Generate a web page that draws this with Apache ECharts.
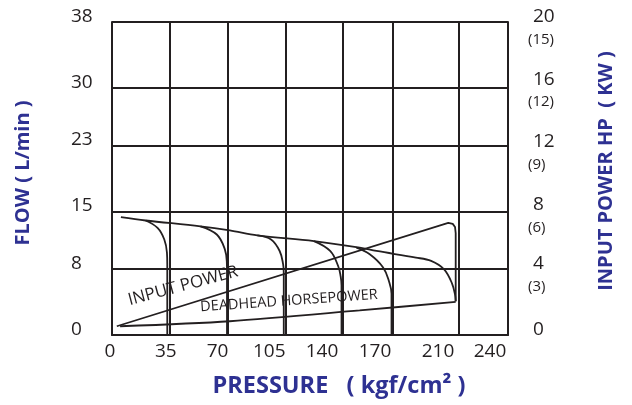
<!DOCTYPE html>
<html>
<head>
<meta charset="utf-8">
<title>Pump performance curves</title>
<script src="https://cdn.jsdelivr.net/npm/echarts@6/dist/echarts.min.js"></script>
<style>
  html, body { margin: 0; padding: 0; background: #ffffff; }
  #chart { width: 632px; height: 405px; }
</style>
</head>
<body>
<div id="chart"></div>
<script>
// Axis tick values
const pressureTicks = [0, 35, 70, 105, 140, 170, 210, 240];
const flowTicks = [0, 8, 15, 23, 30, 38];
const hpTicks = [0, 4, 8, 12, 16, 20];
const kwTicks = [3, 6, 9, 12, 15];

// Maximum flow (L/min) against pressure (kgf/cm²), ending in the 210 relief knee
const maxFlow = [
  [5.4, 14.3], [20.4, 13.9], [53.6, 13.2], [71.4, 12.7], [88.1, 12.1],
  [122.4, 11.4], [150.1, 10.6], [160.3, 10.2], [184.2, 9.4], [193.4, 9.0],
  [201.4, 7.95], [206.0, 6.3], [207.9, 4.9], [208.3, 4.1]
];

// Relief-valve cut-off curves (L/min)
const relief35 = [[20.4, 13.9], [27.6, 13.0], [31.7, 11.6], [33.3, 10.0], [33.5, 8.6], [33.5, 0]];
const relief70 = [[53.6, 13.2], [63.5, 12.2], [68.4, 10.4], [69.6, 8.8], [69.7, 7.6], [69.7, 0]];
const relief105 = [[88.1, 12.1], [96.4, 11.6], [101.6, 10.2], [103.7, 8.6], [104.1, 7.5], [104.1, 0]];
const relief140 = [[122.4, 11.4], [132.2, 10.2], [137.1, 8.35], [138.6, 7.1], [139.1, 6.0], [139.1, 0]];
const relief170 = [[148.1, 10.6], [156.2, 9.8], [164.3, 8.2], [167.9, 6.5], [169.4, 5.0], [169.4, 0]];

// Input power (HP) and deadhead horsepower (HP)
const inputPower = [[2.9, 0.56], [203.8, 7.17], [206.5, 7.1], [207.9, 6.9], [208.3, 6.5], [208.3, 2.16]];
const deadheadPower = [[4.9, 0.56], [71.4, 0.88], [150.1, 1.57], [208.3, 2.12]];

const ink = '#231f20';
const navy = '#2e3192';
const font = '"Open Sans", "Noto Sans", sans-serif';

// Horizontal nudge (px) of each pressure label relative to its grid line
const pressureLabelNudge = { 0: -2, 35: -4, 70: -10, 105: -16, 140: -21, 170: -17.5, 210: -20.5, 240: -18 };
const pressureRich = {};
pressureTicks.forEach(v => {
  pressureRich['p' + v] = {
    fontFamily: font, fontSize: 19, color: ink,
    padding: [0, Math.max(0, -2 * pressureLabelNudge[v]), 0, Math.max(0, 2 * pressureLabelNudge[v])]
  };
});

const chart = echarts.init(document.getElementById('chart'), null, { renderer: 'canvas' });

const curve = (name, data, yAxisIndex, smooth) => ({
  name,
  type: 'line',
  data,
  yAxisIndex,
  smooth,
  symbol: 'none',
  silent: true,
  lineStyle: { color: ink, width: 1.8 },
  z: 3
});

chart.setOption({
  animation: false,
  backgroundColor: '#ffffff',
  grid: { left: 112, right: 124, top: 22, bottom: 70 },
  xAxis: {
    type: 'value',
    min: 0,
    max: 240,
    axisLine: { show: true, lineStyle: { color: ink, width: 2 } },
    axisTick: { show: false, customValues: pressureTicks },
    splitLine: { show: true, lineStyle: { color: ink, width: 2 } },
    axisLabel: {
      customValues: pressureTicks,
      align: 'center',
      margin: 7,
      color: ink,
      fontFamily: font,
      fontSize: 19,
      formatter: v => '{p' + v + '|' + v + '}',
      rich: pressureRich
    }
  },
  yAxis: [
    {
      type: 'value',
      position: 'left',
      min: 0,
      max: 38,
      axisLine: { show: true, lineStyle: { color: ink, width: 2 } },
      axisTick: { show: false, customValues: flowTicks },
      splitLine: { show: true, lineStyle: { color: ink, width: 2 } },
      axisLabel: {
        customValues: flowTicks,
        align: 'left',
        verticalAlign: 'middle',
        margin: 41,
        color: ink,
        fontFamily: font,
        fontSize: 19,
        formatter: v => '{f|' + v + '}',
        rich: { f: { fontFamily: font, fontSize: 19, color: ink, padding: [0, 0, 11, 0] } }
      }
    },
    {
      type: 'value',
      position: 'right',
      min: 0,
      max: 20,
      axisLine: { show: true, lineStyle: { color: ink, width: 2 } },
      axisTick: { show: false, customValues: hpTicks },
      splitLine: { show: false },
      axisLabel: {
        customValues: hpTicks,
        align: 'left',
        verticalAlign: 'middle',
        padding: [0, 0, 11, 0],
        margin: 25,
        color: ink,
        fontFamily: font,
        fontSize: 19,
        formatter: v => (v === 4 ? '{lift|4}' : String(v)),
        rich: { lift: { fontFamily: font, fontSize: 19, color: ink, padding: [0, 0, 6, 0] } }
      }
    },
    {
      type: 'value',
      position: 'right',
      min: 0,
      max: 15,
      axisLine: { show: false },
      axisTick: { show: false, customValues: kwTicks },
      splitLine: { show: false },
      axisLabel: {
        customValues: kwTicks,
        align: 'left',
        verticalAlign: 'middle',
        padding: [35, 0, 0, 0],
        margin: 20,
        color: ink,
        fontFamily: font,
        fontSize: 15,
        formatter: v => (v === 3 ? '{drop|(3)}' : '(' + v + ')'),
        rich: { drop: { fontFamily: font, fontSize: 15, color: ink, padding: [0, 0, 6, 0] } }
      }
    }
  ],
  series: [
    curve('Max flow', maxFlow, 0, 0.35),
    curve('Relief 35', relief35, 0, 0.4),
    curve('Relief 70', relief70, 0, 0.4),
    curve('Relief 105', relief105, 0, 0.4),
    curve('Relief 140', relief140, 0, 0.4),
    curve('Relief 170', relief170, 0, 0.4),
    curve('Input power', inputPower, 1, false),
    curve('Deadhead horsepower', deadheadPower, 1, 0.3)
  ],
  graphic: [
    {
      type: 'text', x: 339, y: 386,
      style: { text: 'PRESSURE   ( kgf/cm² )', font: 'bold 23.5px ' + font, fill: navy, align: 'center', verticalAlign: 'middle' }
    },
    {
      type: 'text', x: 23, y: 173, rotation: Math.PI / 2,
      style: { text: 'FLOW ( L/min )', font: 'bold 20px ' + font, fill: navy, align: 'center', verticalAlign: 'middle' }
    },
    {
      type: 'text', x: 606, y: 171, rotation: Math.PI / 2,
      style: { text: 'INPUT POWER HP  ( KW )', font: 'bold 20px ' + font, fill: navy, align: 'center', verticalAlign: 'middle' }
    },
    {
      type: 'text', x: 183, y: 286, rotation: 15 * Math.PI / 180, z: 10,
      style: { text: 'INPUT POWER', font: '17px ' + font, fill: ink, align: 'center', verticalAlign: 'middle' }
    },
    {
      type: 'text', x: 289, y: 301, rotation: 4 * Math.PI / 180, z: 10,
      style: { text: 'DEADHEAD HORSEPOWER', font: '14.5px ' + font, fill: ink, align: 'center', verticalAlign: 'middle' }
    }
  ]
});
</script>
</body>
</html>
